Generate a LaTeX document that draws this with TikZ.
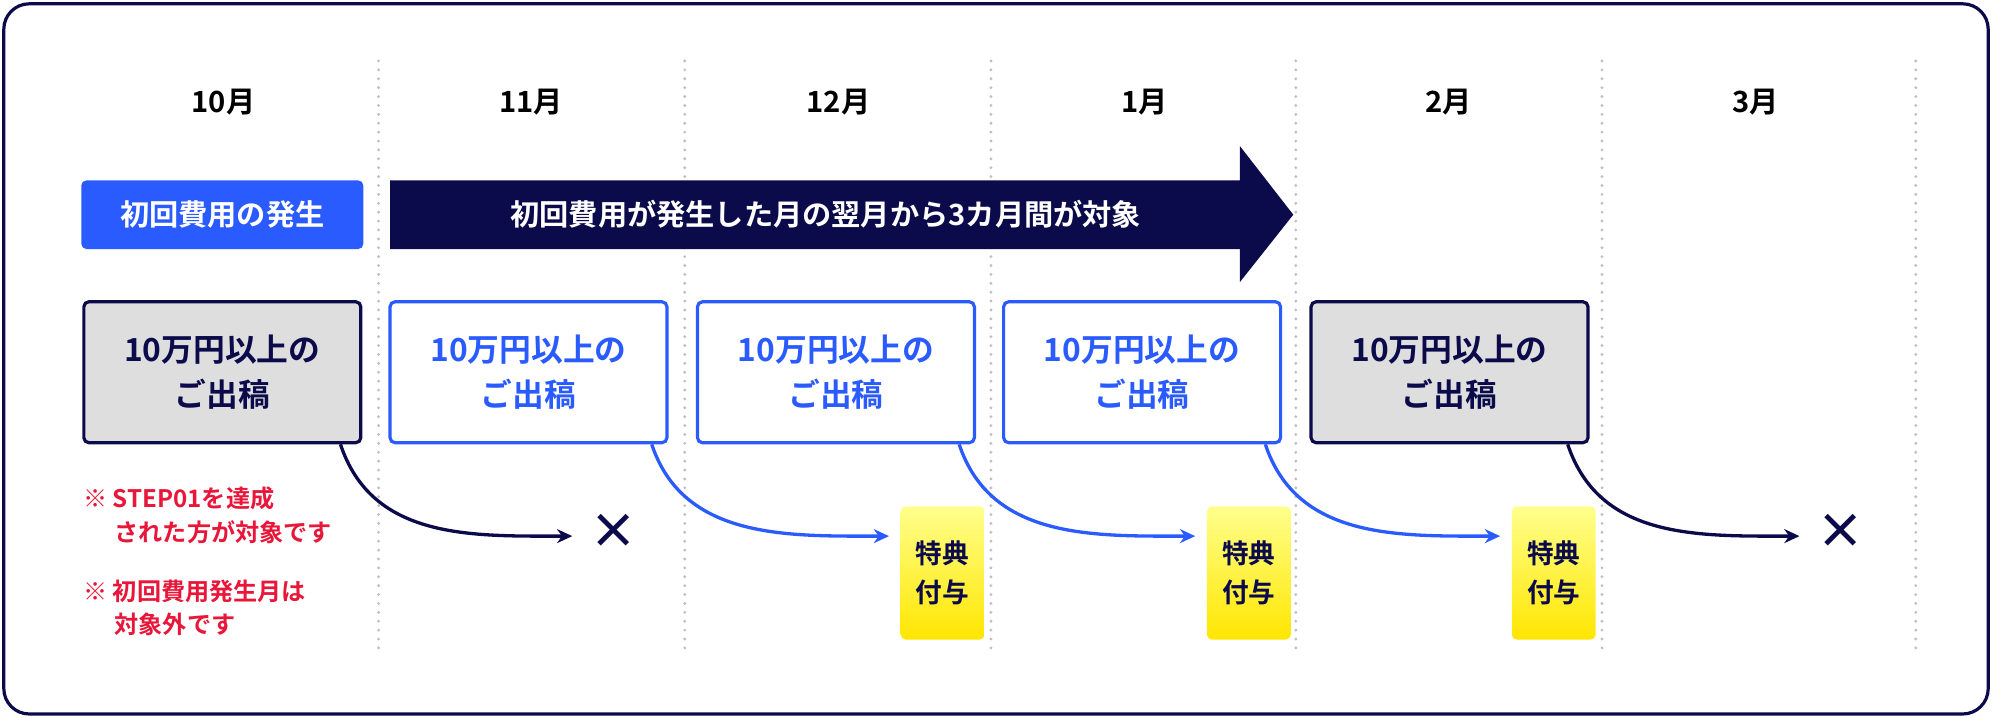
\documentclass[tikz,border=0pt]{standalone}
\usepackage{fontspec}
\setmainfont{Noto Sans CJK JP}[BoldFont={* Bold}]
\usetikzlibrary{positioning,arrows.meta}
\definecolor{navy}{HTML}{0B0A4A}
\definecolor{brandblue}{HTML}{2A5BFF}
\definecolor{notered}{HTML}{E8173A}
\definecolor{boxgray}{HTML}{DEDEDE}
\tikzset{
  month/.style={font=\bfseries\fontsize{23}{26}\selectfont, text=black},
  post/.style={draw, line width=2.5pt, rounded corners=4pt, minimum width=218pt, minimum height=111pt, align=center, font=\bfseries\fontsize{25}{36}\selectfont},
  done/.style={post, draw=navy, fill=boxgray, text=navy},
  ok/.style={post, draw=brandblue, fill=white, text=brandblue},
  gift/.style={rounded corners=4pt, minimum width=66pt, minimum height=105pt, top color=yellow!45, bottom color=yellow!80!orange, align=center, text=navy, font=\bfseries\fontsize{21}{31}\selectfont},
  flow/.style={line width=2.6pt, -{Stealth[length=12pt,width=11pt]}},
  note/.style={text=notered, align=left, font=\bfseries\fontsize{19}{26}\selectfont, anchor=north west}
}
\begin{document}
\begin{tikzpicture}[x=1pt,y=-1pt]
  \useasboundingbox (0,0) rectangle (1568,565);
  \draw[navy, line width=2.5pt, rounded corners=20pt] (3,3) rectangle (1565,562);
  % dotted separators
  \foreach \x in {298,539,780,1020,1261,1508}
    \draw[gray!50, line width=2.5pt, line cap=round, dash pattern=on 0pt off 7pt] (\x,48) -- (\x,515);
  % months
  \foreach \x/\m/\n in {176/10/m10,418/11/m11,660/12/m12,901/1/m1,1140/2/m2,1382/3/m3}
    \node[month] (\n) at (\x,80) {\m 月};
  % header
  \node[fill=brandblue, rounded corners=4pt, minimum width=222pt, minimum height=54pt, text=white, font=\bfseries\fontsize{23}{26}\selectfont] (start) at (175,169) {初回費用の発生};
  \fill[navy] (307,142) -- (976,142) -- (976,115) -- (1018,169) -- (976,222) -- (976,196) -- (307,196) -- cycle;
  \node[text=white, font=\bfseries\fontsize{23}{26}\selectfont] (spantext) at (650,169) {初回費用が発生した月の翌月から3カ月間が対象};
  % posting boxes
  \node[done] (p10) at (175,293) {10万円以上の\\ご出稿};
  \node[ok] (p11) at (416,293) {10万円以上の\\ご出稿};
  \node[ok] (p12) at (658,293) {10万円以上の\\ご出稿};
  \node[ok] (p1) at (899,293) {10万円以上の\\ご出稿};
  \node[done] (p2) at (1141,293) {10万円以上の\\ご出稿};
  % results
  \node[text=navy, font=\bfseries\fontsize{38}{38}\selectfont] (x10) at (483,418) {×};
  \node[text=navy, font=\bfseries\fontsize{38}{38}\selectfont] (x2) at (1449,418) {×};
  \node[gift] (g12) at (742,451) {特典\\付与};
  \node[gift] (g1) at (983,451) {特典\\付与};
  \node[gift] (g2) at (1223,451) {特典\\付与};
  % connectors
  \draw[flow, navy] ([xshift=93pt]p10.south) .. controls +(25,75) and +(-80,0) .. ([xshift=-10pt,yshift=-4pt]x10.west);
  \draw[flow, brandblue] ([xshift=97pt]p11.south) .. controls +(25,75) and +(-80,0) .. ([xshift=-9pt,yshift=29pt]g12.west);
  \draw[flow, brandblue] ([xshift=97pt]p12.south) .. controls +(25,75) and +(-80,0) .. ([xshift=-9pt,yshift=29pt]g1.west);
  \draw[flow, brandblue] ([xshift=97pt]p1.south) .. controls +(25,75) and +(-80,0) .. ([xshift=-9pt,yshift=29pt]g2.west);
  \draw[flow, navy] ([xshift=93pt]p2.south) .. controls +(25,75) and +(-80,0) .. ([xshift=-10pt,yshift=-4pt]x2.west);
  % notes
  \node[note] (n1) at (62,380) {※ STEP01を達成\\\hspace*{1.3em}された方が対象です};
  \node[note] (n2) at (62,453) {※ 初回費用発生月は\\\hspace*{1.3em}対象外です};
\end{tikzpicture}
\end{document}
